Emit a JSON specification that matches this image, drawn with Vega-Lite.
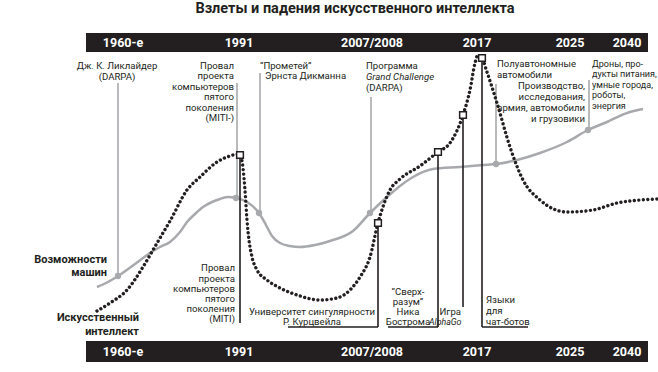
{
  "$schema": "https://vega.github.io/schema/vega-lite/v6.json",
  "width": 658,
  "height": 372,
  "padding": 0,
  "autosize": {"type": "none"},
  "background": "white",
  "config": {"view": {"stroke": null}, "text": {"font": "Roboto", "fontSize": 9.6, "color": "#231f20"}},
  "datasets": {
    "bars": [
      {"x": 86, "x2": 648, "y": 33, "y2": 52},
      {"x": 86, "x2": 648, "y": 341, "y2": 362}
    ],
    "barlabels": [
      {"x": 123, "y": 43, "t": "1960-е"}, {"x": 239, "y": 43, "t": "1991"}, {"x": 372, "y": 43, "t": "2007/2008"},
      {"x": 477, "y": 43, "t": "2017"}, {"x": 570, "y": 43, "t": "2025"}, {"x": 627, "y": 43, "t": "2040"},
      {"x": 123, "y": 352, "t": "1960-е"}, {"x": 239, "y": 352, "t": "1991"}, {"x": 372, "y": 352, "t": "2007/2008"},
      {"x": 477, "y": 352, "t": "2017"}, {"x": 570, "y": 352, "t": "2025"}, {"x": 627, "y": 352, "t": "2040"}
    ],
    "title": [{"x": 355, "y": 9, "t": "Взлеты и падения искусственного интеллекта"}],
    "machine": [
      {"x": 97, "y": 287}, {"x": 108, "y": 282}, {"x": 118, "y": 276}, {"x": 135, "y": 264}, {"x": 150, "y": 253},
      {"x": 160, "y": 247}, {"x": 170, "y": 242}, {"x": 180, "y": 232}, {"x": 187, "y": 222}, {"x": 195, "y": 214},
      {"x": 203, "y": 207}, {"x": 212, "y": 202}, {"x": 220, "y": 199}, {"x": 228, "y": 197}, {"x": 236, "y": 198},
      {"x": 247, "y": 202}, {"x": 259, "y": 213}, {"x": 266, "y": 225}, {"x": 272, "y": 236}, {"x": 280, "y": 243},
      {"x": 290, "y": 246}, {"x": 300, "y": 247}, {"x": 315, "y": 245}, {"x": 330, "y": 241}, {"x": 353, "y": 231},
      {"x": 370, "y": 213}, {"x": 387, "y": 197}, {"x": 400, "y": 186}, {"x": 413, "y": 177}, {"x": 433, "y": 169},
      {"x": 460, "y": 167}, {"x": 483, "y": 165}, {"x": 496, "y": 164}, {"x": 517, "y": 160}, {"x": 540, "y": 153},
      {"x": 567, "y": 142}, {"x": 588, "y": 130}, {"x": 607, "y": 122}, {"x": 627, "y": 113}, {"x": 643, "y": 109}
    ],
    "ai": [
      {"x": 97, "y": 311}, {"x": 110, "y": 303}, {"x": 127, "y": 290}, {"x": 143, "y": 267}, {"x": 153, "y": 250},
      {"x": 160, "y": 238}, {"x": 170, "y": 221}, {"x": 187, "y": 190}, {"x": 200, "y": 177}, {"x": 217, "y": 162},
      {"x": 230, "y": 156}, {"x": 238, "y": 154}, {"x": 240.5, "y": 156}, {"x": 243, "y": 168}, {"x": 245, "y": 190},
      {"x": 247, "y": 220}, {"x": 249, "y": 240}, {"x": 252, "y": 257}, {"x": 257, "y": 270}, {"x": 267, "y": 280},
      {"x": 280, "y": 288}, {"x": 297, "y": 295}, {"x": 320, "y": 300}, {"x": 337, "y": 298}, {"x": 350, "y": 290},
      {"x": 360, "y": 277}, {"x": 370, "y": 257}, {"x": 378, "y": 223}, {"x": 390, "y": 190}, {"x": 400, "y": 179},
      {"x": 420, "y": 166}, {"x": 438, "y": 152}, {"x": 450, "y": 143}, {"x": 463, "y": 115}, {"x": 470, "y": 90},
      {"x": 475, "y": 63}, {"x": 478, "y": 55}, {"x": 482, "y": 58}, {"x": 487, "y": 72}, {"x": 497, "y": 103},
      {"x": 510, "y": 147}, {"x": 523, "y": 180}, {"x": 540, "y": 200}, {"x": 567, "y": 212}, {"x": 593, "y": 210},
      {"x": 617, "y": 203}, {"x": 640, "y": 200}, {"x": 657, "y": 199}
    ],
    "grayrules": [
      {"x": 118, "y": 83, "y2": 276}, {"x": 237, "y": 83, "y2": 198}, {"x": 260, "y": 73, "y2": 213},
      {"x": 371, "y": 97, "y2": 213}, {"x": 496, "y": 84, "y2": 164}, {"x": 589, "y": 80, "y2": 130}
    ],
    "graydots": [
      {"x": 118, "y": 276}, {"x": 236, "y": 198}, {"x": 259, "y": 213}, {"x": 370, "y": 213}, {"x": 496, "y": 164}, {"x": 588, "y": 130}
    ],
    "blackrules": [
      {"x": 240, "y": 155, "y2": 323}, {"x": 378, "y": 223, "y2": 327}, {"x": 438, "y": 152, "y2": 327},
      {"x": 463, "y": 115, "y2": 307}, {"x": 482, "y": 58, "y2": 327}
    ],
    "underlines": [
      {"x": 288, "x2": 378, "y": 327}, {"x": 388, "x2": 438, "y": 327}, {"x": 482, "x2": 528, "y": 327}
    ],
    "squares": [
      {"x": 240, "y": 155}, {"x": 378, "y": 223}, {"x": 438, "y": 152}, {"x": 463, "y": 115}, {"x": 482, "y": 58}
    ],
    "textLeft": [
      {"x": 260, "y": 66, "t": "“Прометей”"}, {"x": 265, "y": 76, "t": "Эрнста Дикманна"},
      {"x": 366, "y": 66, "t": "Программа"}, {"x": 366, "y": 88, "t": "(DARPA)"},
      {"x": 497, "y": 64, "t": "Полуавтономные"}, {"x": 497, "y": 75, "t": "автомобили"},
      {"x": 486, "y": 300, "t": "Языки"}, {"x": 486, "y": 311, "t": "для"}, {"x": 486, "y": 322, "t": "чат-ботов"}
    ],
    "textLeftSmall": [
      {"x": 592, "y": 64, "t": "Дроны, про-"}, {"x": 592, "y": 74, "t": "дукты питания,"},
      {"x": 592, "y": 85, "t": "умные города,"}, {"x": 592, "y": 95, "t": "роботы,"}, {"x": 592, "y": 106, "t": "энергия"}
    ],
    "textRight": [
      {"x": 234, "y": 66, "t": "Провал"}, {"x": 234, "y": 76, "t": "проекта"}, {"x": 234, "y": 87, "t": "компьютеров"},
      {"x": 234, "y": 97, "t": "пятого"}, {"x": 234, "y": 108, "t": "поколения"}, {"x": 234, "y": 118, "t": "(MITI-)"},
      {"x": 585, "y": 86, "t": "Производство,"}, {"x": 585, "y": 97, "t": "исследования,"},
      {"x": 585, "y": 108, "t": "армия, автомобили"}, {"x": 585, "y": 119, "t": "и грузовики"},
      {"x": 235, "y": 268, "t": "Провал"}, {"x": 235, "y": 279, "t": "проекта"}, {"x": 235, "y": 289, "t": "компьютеров"},
      {"x": 235, "y": 299, "t": "пятого"}, {"x": 235, "y": 309, "t": "поколения"}, {"x": 235, "y": 319, "t": "(MITI)"},
      {"x": 461, "y": 312, "t": "Игра"}
    ],
    "textCenter": [
      {"x": 117, "y": 66, "t": "Дж. К. Ликлайдер"}, {"x": 117, "y": 77, "t": "(DARPA)"},
      {"x": 312, "y": 312, "t": "Университет сингулярности"}, {"x": 312, "y": 322, "t": "Р. Курцвейла"},
      {"x": 408, "y": 292, "t": "“Сверх-"}, {"x": 408, "y": 302, "t": "разум”"},
      {"x": 408, "y": 312, "t": "Ника"}, {"x": 408, "y": 322, "t": "Бострома"}
    ],
    "italicLeft": [{"x": 366, "y": 77, "t": "Grand Challenge"}],
    "italicRight": [{"x": 461.5, "y": 322, "t": "AlphaGo"}],
    "boldRight": [
      {"x": 107, "y": 260, "t": "Возможности"}, {"x": 107, "y": 273, "t": "машин"},
      {"x": 139, "y": 318, "t": "Искусственный"}, {"x": 139, "y": 332, "t": "интеллект"}
    ]
  },
  "encoding": {
    "x": {"field": "x", "type": "quantitative", "axis": null, "scale": {"domain": [0, 658], "nice": false, "zero": false}},
    "y": {"field": "y", "type": "quantitative", "axis": null, "scale": {"domain": [0, 372], "nice": false, "zero": false, "reverse": true}}
  },
  "layer": [
    {"data": {"name": "bars"}, "mark": {"type": "rect", "color": "#231f20"}, "encoding": {"x2": {"field": "x2"}, "y2": {"field": "y2"}}},
    {"data": {"name": "barlabels"}, "mark": {"type": "text", "color": "white", "fontWeight": "bold", "fontSize": 12.5, "align": "center", "baseline": "middle"}, "encoding": {"text": {"field": "t"}}},
    {"data": {"name": "title"}, "mark": {"type": "text", "fontWeight": "bold", "fontSize": 14.5, "align": "center", "baseline": "middle"}, "encoding": {"text": {"field": "t"}}},
    {"data": {"name": "grayrules"}, "mark": {"type": "rule", "color": "#a7a9ac", "strokeWidth": 1.6}, "encoding": {"y2": {"field": "y2"}}},
    {"data": {"name": "machine"}, "mark": {"type": "line", "color": "#a7a9ac", "strokeWidth": 2.5, "interpolate": "monotone"}, "encoding": {"order": {"field": "x"}}},
    {"data": {"name": "graydots"}, "mark": {"type": "circle", "color": "#a7a9ac", "size": 40, "opacity": 1}},
    {"data": {"name": "blackrules"}, "mark": {"type": "rule", "color": "#231f20", "strokeWidth": 1.6}, "encoding": {"y2": {"field": "y2"}}},
    {"data": {"name": "underlines"}, "mark": {"type": "rule", "color": "#231f20", "strokeWidth": 1.6}, "encoding": {"x2": {"field": "x2"}}},
    {"data": {"name": "ai"}, "mark": {"type": "line", "color": "#231f20", "strokeWidth": 3.4, "strokeCap": "round", "strokeDash": [0.01, 4.5], "interpolate": "monotone"}, "encoding": {"order": {"field": "x"}}},
    {"data": {"name": "squares"}, "mark": {"type": "point", "shape": "square", "size": 45, "filled": true, "fill": "white", "stroke": "#231f20", "strokeWidth": 1.5, "opacity": 1}},
    {"data": {"name": "textLeft"}, "mark": {"type": "text", "align": "left", "baseline": "middle"}, "encoding": {"text": {"field": "t"}}},
    {"data": {"name": "textLeftSmall"}, "mark": {"type": "text", "align": "left", "baseline": "middle", "fontSize": 9}, "encoding": {"text": {"field": "t"}}},
    {"data": {"name": "textRight"}, "mark": {"type": "text", "align": "right", "baseline": "middle"}, "encoding": {"text": {"field": "t"}}},
    {"data": {"name": "textCenter"}, "mark": {"type": "text", "align": "center", "baseline": "middle"}, "encoding": {"text": {"field": "t"}}},
    {"data": {"name": "italicLeft"}, "mark": {"type": "text", "align": "left", "baseline": "middle", "fontStyle": "italic"}, "encoding": {"text": {"field": "t"}}},
    {"data": {"name": "italicRight"}, "mark": {"type": "text", "align": "right", "baseline": "middle", "fontStyle": "italic", "fontSize": 8.8}, "encoding": {"text": {"field": "t"}}},
    {"data": {"name": "boldRight"}, "mark": {"type": "text", "align": "right", "baseline": "middle", "fontWeight": "bold", "fontSize": 11}, "encoding": {"text": {"field": "t"}}}
  ]
}
